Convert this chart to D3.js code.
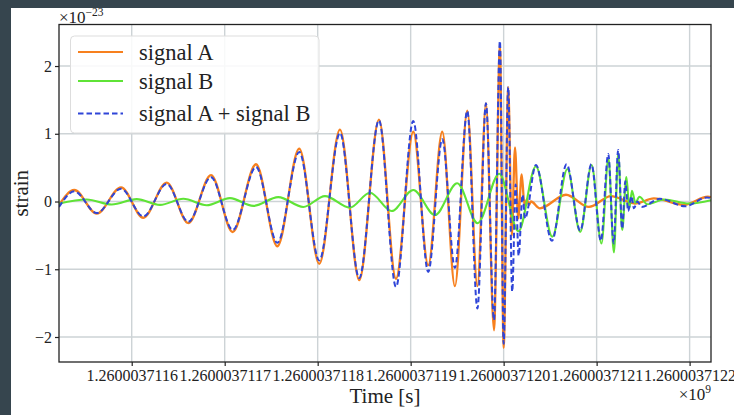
<!DOCTYPE html>
<html><head><meta charset="utf-8">
<script src="https://cdn.jsdelivr.net/npm/d3@7"></script>
<style>
html,body{margin:0;padding:0;background:#fff;}
svg{display:block;}
</style></head>
<body>
<script>
// time in seconds relative to 1260003711.6 s ; strain in units of 1e-23
const timeA = [-0.0782,-0.0617,-0.0376,-0.0115,0.0125,0.0376,0.0609,0.0853,0.1086,0.1337,0.1566,0.1802,0.2017,0.2240,0.2447,0.2659,0.2842,0.3028,0.3189,0.3340,0.3476,0.3609,0.3718,0.3810,0.3896,0.3960,0.4000,0.4049,0.4088,0.4122,0.4157,0.4194,0.4224,0.4250,0.4272,0.4294,0.4390,0.4670,0.4917,0.5154,0.5412,0.5616,0.5939,0.6197,0.6230];
const strainA = [-0.05,0.17,-0.18,0.21,-0.24,0.28,-0.32,0.39,-0.45,0.55,-0.66,0.78,-0.92,1.06,-1.16,1.21,-1.14,1.03,-0.94,1.03,-1.25,1.34,-1.25,1.45,-1.90,2.30,-2.16,1.69,-0.50,0.80,-0.25,0.40,-0.05,0.03,-0.05,0.00,-0.10,0.10,-0.08,0.08,-0.03,0.045,-0.05,0.07,0.066];

const timeB = [-0.0782,-0.0484,-0.0215,0.0054,0.0304,0.0555,0.0806,0.1057,0.1308,0.1576,0.1845,0.2078,0.2347,0.2562,0.2796,0.3028,0.3261,0.3501,0.3720,0.3953,0.4159,0.4347,0.4523,0.4686,0.4823,0.4946,0.5052,0.5127,0.5186,0.5232,0.5275,0.5320,0.5352,0.5380,0.5417,0.5460,0.5545,0.5727,0.5996,0.6230];
const strainB = [-0.03,0.03,-0.045,0.035,-0.05,0.04,-0.055,0.05,-0.065,0.065,-0.08,0.08,-0.09,0.13,-0.14,0.17,-0.20,0.27,-0.32,0.41,-0.44,0.52,-0.52,0.48,-0.45,0.54,-0.62,0.64,-0.75,0.71,-0.42,0.36,-0.10,0.16,-0.02,0.07,-0.04,0.03,-0.03,0.02];

const timeSum = [-0.0782,-0.0617,-0.0376,-0.0115,0.0125,0.0376,0.0609,0.0853,0.1086,0.1337,0.1566,0.1802,0.2017,0.2240,0.2447,0.2659,0.2842,0.3028,0.3189,0.3340,0.3476,0.3609,0.3718,0.3810,0.3896,0.3960,0.4000,0.4049,0.4092,0.4129,0.4161,0.4204,0.4230,0.4347,0.4519,0.4677,0.4824,0.4944,0.5046,0.5125,0.5183,0.5232,0.5275,0.5309,0.5339,0.5374,0.5401,0.5439,0.5484,0.5681,0.5951,0.6185,0.6230];
const strainSum = [-0.08,0.15,-0.17,0.19,-0.22,0.26,-0.30,0.36,-0.42,0.51,-0.61,0.73,-0.87,1.01,-1.13,1.20,-1.26,1.19,-1.04,0.92,-0.98,1.34,-1.58,1.45,-1.75,2.37,-2.10,1.69,-1.33,0.25,-0.80,0.10,-0.25,0.54,-0.58,0.55,-0.43,0.55,-0.58,0.70,-0.62,0.76,-0.40,0.30,-0.14,0.08,-0.10,0.00,-0.08,0.04,-0.07,0.06,0.05];

const xTickValues = [0,0.1,0.2,0.3,0.4,0.5,0.6];
const xTickLabels = ["1.2600037116","1.2600037117","1.2600037118","1.2600037119","1.2600037120","1.2600037121","1.2600037122"];
const yTickValues = [-2,-1,0,1,2];
const legendLabels = ["signal A","signal B","signal A + signal B"];

const W = 734, H = 415;
const L = 59, R = 711, T = 24.5, B = 362;
const font = "'Liberation Serif','Times New Roman',serif";
const cA = "#f7801e", cB = "#5fe336", cS = "#2f45d8";

const svg = d3.select("body").append("svg").attr("width", W).attr("height", H);
svg.append("rect").attr("width", W).attr("height", H).attr("fill", "#36454e");
svg.append("rect").attr("x", 11).attr("y", 8).attr("width", W - 11).attr("height", H - 8).attr("fill", "#fff");

const x = d3.scaleLinear().domain([-0.0782, 0.6230]).range([L, R]);
const y = d3.scaleLinear().domain([-2.369, 2.613]).range([B, T]);

// grid
const grid = svg.append("g").attr("stroke", "#cdd3d6").attr("stroke-width", 1.4);
grid.selectAll("line.gx").data(xTickValues).join("line")
  .attr("x1", d => x(d)).attr("x2", d => x(d)).attr("y1", T).attr("y2", B);
grid.selectAll("line.gy").data(yTickValues).join("line")
  .attr("y1", d => y(d)).attr("y2", d => y(d)).attr("x1", L).attr("x2", R);

// axes
const xAxis = d3.axisBottom(x).tickValues(xTickValues).tickSize(4).tickPadding(4)
  .tickFormat((d, i) => xTickLabels[i]);
const yAxis = d3.axisLeft(y).tickValues(yTickValues).tickSize(4).tickPadding(3)
  .tickFormat(d => d < 0 ? "\u2212" + Math.abs(d) : String(d));
const gx = svg.append("g").attr("transform", `translate(0,${B})`).call(xAxis);
const gy = svg.append("g").attr("transform", `translate(${L},0)`).call(yAxis);
[gx, gy].forEach(g => {
  g.select(".domain").remove();
  g.selectAll("line").attr("stroke", "#222").attr("stroke-width", 1.2);
  g.selectAll("text").attr("font-family", font).attr("font-size", 16).attr("fill", "#222");
});

// lines
svg.append("clipPath").attr("id", "clip").append("rect")
  .attr("x", L).attr("y", T).attr("width", R - L).attr("height", B - T);
const plot = svg.append("g").attr("clip-path", "url(#clip)");
const line = d3.line().x(d => x(d[0])).y(d => y(d[1])).curve(d3.curveMonotoneX);
const series = [
  {t: timeA, s: strainA, c: cA, dash: null, w: 2.3},
  {t: timeB, s: strainB, c: cB, dash: null, w: 2.1},
  {t: timeSum, s: strainSum, c: cS, dash: "5.5,3", w: 2}
];
series.forEach(sr => {
  plot.append("path").datum(d3.zip(sr.t, sr.s))
    .attr("d", line).attr("fill", "none").attr("stroke", sr.c)
    .attr("stroke-width", sr.w).attr("stroke-dasharray", sr.dash)
    .attr("stroke-linejoin", "round");
});

// frame
svg.append("rect").attr("x", L).attr("y", T).attr("width", R - L).attr("height", B - T)
  .attr("fill", "none").attr("stroke", "#222").attr("stroke-width", 1.3);

// legend
const lg = svg.append("g");
lg.append("rect").attr("x", 70.5).attr("y", 36).attr("width", 248.5).attr("height", 97)
  .attr("rx", 4).attr("fill", "#fff").attr("fill-opacity", 0.85).attr("stroke", "#dddddd").attr("stroke-width", 1);
const lgY = [52, 81, 113.5];
legendLabels.forEach((lab, i) => {
  const s = series[i];
  lg.append("line").attr("x1", 78).attr("x2", 123).attr("y1", lgY[i]).attr("y2", lgY[i])
    .attr("stroke", s.c).attr("stroke-width", 2).attr("stroke-dasharray", s.dash);
  lg.append("text").attr("x", 139).attr("y", lgY[i] + 7.5).attr("font-family", font)
    .attr("font-size", 22.5).attr("fill", "#222").text(lab);
});

// axis labels
svg.append("text").attr("x", (L + R) / 2).attr("y", 403).attr("text-anchor", "middle")
  .attr("font-family", font).attr("font-size", 21).attr("fill", "#222").text("Time [s]");
svg.append("text").attr("transform", `translate(28,${(T + B) / 2}) rotate(-90)`).attr("text-anchor", "middle")
  .attr("font-family", font).attr("font-size", 21).attr("fill", "#222").text("strain");

// offset texts
const off1 = svg.append("text").attr("x", R).attr("y", 400).attr("text-anchor", "end")
  .attr("font-family", font).attr("font-size", 17).attr("fill", "#222");
off1.append("tspan").text("\u00d710");
off1.append("tspan").attr("dy", -7).attr("font-size", 11.5).text("9");
const off2 = svg.append("text").attr("x", L).attr("y", 22.5)
  .attr("font-family", font).attr("font-size", 17).attr("fill", "#222");
off2.append("tspan").text("\u00d710");
off2.append("tspan").attr("dy", -7).attr("font-size", 11.5).text("\u221223");
</script>
</body></html>
